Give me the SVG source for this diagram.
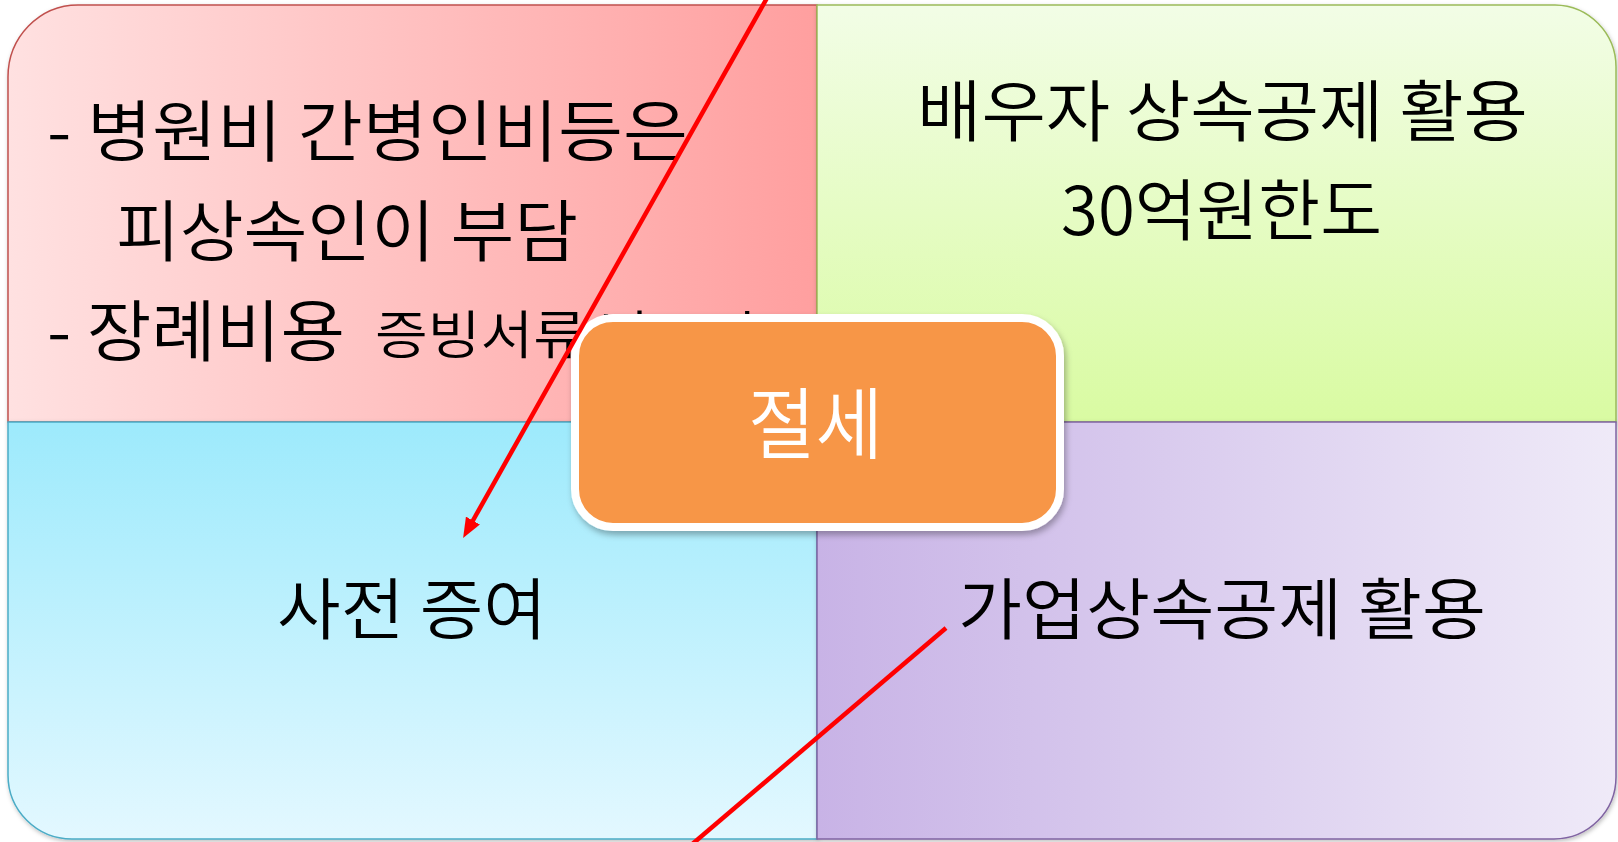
<svg xmlns="http://www.w3.org/2000/svg" width="1618" height="842" viewBox="0 0 1618 842">
<defs>
<linearGradient id="gTL" x1="0" y1="0" x2="1" y2="0"><stop offset="0" stop-color="#FFE1E1"/><stop offset="1" stop-color="#FF9F9F"/></linearGradient>
<linearGradient id="gTR" x1="0" y1="0" x2="0" y2="1"><stop offset="0" stop-color="#F2FDE6"/><stop offset="1" stop-color="#D9FBA2"/></linearGradient>
<linearGradient id="gBL" x1="0" y1="0" x2="0" y2="1"><stop offset="0" stop-color="#9DEAFC"/><stop offset="1" stop-color="#E3F8FF"/></linearGradient>
<linearGradient id="gBR" x1="0" y1="0" x2="1" y2="0"><stop offset="0" stop-color="#C8B3E6"/><stop offset="1" stop-color="#EFEAF8"/></linearGradient>
<filter id="sh" x="-10%" y="-10%" width="120%" height="125%"><feDropShadow dx="2" dy="4" stdDeviation="3" flood-color="#000" flood-opacity="0.3"/></filter>
<filter id="shq" x="-5%" y="-5%" width="110%" height="110%"><feDropShadow dx="1" dy="2" stdDeviation="2" flood-color="#000" flood-opacity="0.25"/></filter>
<marker id="arr" viewBox="0 0 20 16" markerWidth="20" markerHeight="16" refX="8" refY="8" orient="auto" markerUnits="userSpaceOnUse"><path d="M0,0 L20,8 L0,16 Z" fill="#FF0000"/></marker>
</defs>
<style>
.t{font-family:"Noto Sans CJK KR","Malgun Gothic","Noto Sans",sans-serif;fill:#000;font-size:67px;font-weight:350}
.s{font-size:52px}
.c{fill:#FFFFFF;font-size:78px}
.q{stroke-width:1.5}
.cn{fill:none;stroke:#FF0000;stroke-width:4.5}
</style>
<g id="q-tl">
<path class="q" filter="url(#shq)" d="M8,422 V77 A70,72 0 0 1 78,5 H817 V422 Z" fill="url(#gTL)" stroke="#C0504D"/>
<text class="t" x="47" y="156" textLength="641" lengthAdjust="spacingAndGlyphs">- 병원비 간병인비등은</text>
<text class="t" x="116" y="256" textLength="462" lengthAdjust="spacingAndGlyphs">피상속인이 부담</text>
<text class="t" x="47" y="356" textLength="298" lengthAdjust="spacingAndGlyphs">- 장례비용</text>
<text class="t s" x="375" y="354" textLength="382" lengthAdjust="spacingAndGlyphs">증빙서류 반드시</text>
</g>
<g id="q-tr">
<path class="q" filter="url(#shq)" d="M817,5 H1555 A62,62 0 0 1 1616,67 V422 H817 Z" fill="url(#gTR)" stroke="#9BBB59"/>
<text class="t" x="917" y="136" textLength="611" lengthAdjust="spacingAndGlyphs">배우자 상속공제 활용</text>
<text class="t" x="1061" y="235" textLength="321" lengthAdjust="spacingAndGlyphs">30억원한도</text>
</g>
<g id="q-bl">
<path class="q" filter="url(#shq)" d="M8,422 H817 V839 H72 A64,64 0 0 1 8,775 Z" fill="url(#gBL)" stroke="#4BACC6"/>
<text class="t" x="277" y="634" textLength="270" lengthAdjust="spacingAndGlyphs">사전 증여</text>
</g>
<g id="q-br">
<path class="q" filter="url(#shq)" d="M817,422 H1616 V777 A62,62 0 0 1 1554,839 H817 Z" fill="url(#gBR)" stroke="#8064A2"/>
<text class="t" x="958" y="634" textLength="528" lengthAdjust="spacingAndGlyphs">가업상속공제 활용</text>
</g>
<g id="center">
<rect x="575" y="318" width="485" height="209" rx="38" fill="#F79646" stroke="#FFFFFF" stroke-width="8" filter="url(#sh)"/>
<text class="t c" x="748" y="453" textLength="135" lengthAdjust="spacingAndGlyphs">절세</text>
</g>
<g id="connectors">
<path class="cn" d="M767,-2 L469,527.5" marker-end="url(#arr)"/>
<path class="cn" d="M946,628 L690,846"/>
</g>
</svg>
